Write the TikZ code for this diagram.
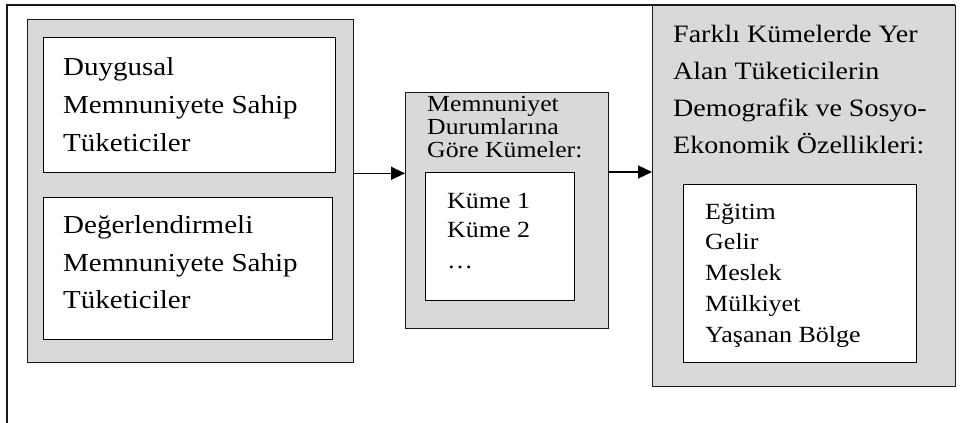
\documentclass[tikz,border=0pt]{standalone}
\usepackage{fontspec}
\setmainfont[FakeStretch=1.12]{Liberation Serif}
\usetikzlibrary{arrows.meta}
\definecolor{boxgray}{HTML}{D9D9D9}
\begin{document}
\begin{tikzpicture}[x=1pt,y=-1pt,
  frame/.style={draw=black!90, line width=1.3pt},
  gbox/.style={draw=black!90, fill=boxgray, line width=1.3pt, inner sep=0pt, anchor=north west},
  wbox/.style={draw=black, fill=white, line width=1.3pt, inner sep=0pt, anchor=north west},
  lefttxt/.style={font=\fontsize{25.9}{31}\selectfont, anchor=base west, inner sep=0pt},
  righttxt/.style={font=\fontsize{25}{30}\selectfont, anchor=base west, inner sep=0pt},
  midtxt/.style={font=\fontsize{23}{28}\selectfont, anchor=base west, inner sep=0pt},
  smalltxt/.style={font=\fontsize{23.2}{28}\selectfont, anchor=base west, inner sep=0pt},
  arr/.style={-{Triangle[length=14pt,width=13pt]}, line width=1.3pt}]
\useasboundingbox (0,0) rectangle (967,423);
% outer frame
\coordinate (fa) at (7,423);
\coordinate (fb) at (7,5);
\coordinate (fc) at (955,5);
\draw[frame] (fa) -- (fb) -- (fc);
% boxes
\node[gbox, minimum width=326pt, minimum height=343pt] (g1) at (27,19) {};
\node[wbox, minimum width=292pt, minimum height=135pt] (b1) at (43,37) {};
\node[wbox, minimum width=289pt, minimum height=142pt] (b2) at (43,197) {};
\node[gbox, minimum width=203pt, minimum height=236pt] (g2) at (405,92) {};
\node[wbox, minimum width=149pt, minimum height=128pt] (m1) at (425,172) {};
\node[gbox, minimum width=303pt, minimum height=381pt] (g3) at (652,5) {};
\node[wbox, minimum width=233pt, minimum height=178pt] (r1) at (683,184) {};
% arrows
\draw[arr] (g1.east |- b1.south) -- (g2.west |- b1.south);
\draw[arr] (g2.east |- m1.north) -- (g3.west |- m1.north);
% texts box 1
\node[lefttxt] (a1) at (63,75) {Duygusal};
\node[lefttxt] (a2) at (63,113) {Memnuniyete Sahip};
\node[lefttxt] (a3) at (63,151) {Tüketiciler};
% texts box 2
\node[lefttxt] (c1) at (63,233) {Değerlendirmeli};
\node[lefttxt] (c2) at (63,271) {Memnuniyete Sahip};
\node[lefttxt] (c3) at (63,308) {Tüketiciler};
% middle title
\node[midtxt] (d1) at (427,111) {Memnuniyet};
\node[midtxt] (d2) at (427,134) {Durumlarına};
\node[midtxt] (d3) at (427,157) {Göre Kümeler:};
% middle items
\node[smalltxt] (e1) at (447,208) {Küme 1};
\node[smalltxt] (e2) at (447,237) {Küme 2};
\node[smalltxt] (e3) at (447,268) {\dots};
% right title
\node[righttxt] (f1) at (673,42) {Farklı Kümelerde Yer};
\node[righttxt] (f2) at (673,79) {Alan Tüketicilerin};
\node[righttxt] (f3) at (673,116) {Demografik ve Sosyo-};
\node[righttxt] (f4) at (673,153) {Ekonomik Özellikleri:};
% right items
\node[smalltxt] (h1) at (705,219) {Eğitim};
\node[smalltxt] (h2) at (705,249) {Gelir};
\node[smalltxt] (h3) at (705,280) {Meslek};
\node[smalltxt] (h4) at (705,311) {Mülkiyet};
\node[smalltxt] (h5) at (705,342) {Yaşanan Bölge};
\end{tikzpicture}
\end{document}
